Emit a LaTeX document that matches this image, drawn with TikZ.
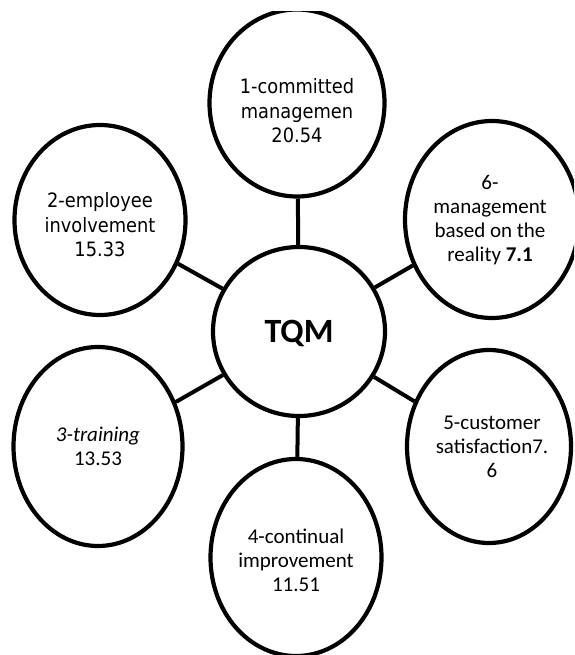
\documentclass[tikz,border=0pt]{standalone}
\usepackage{fontspec}
\setmainfont{Carlito}
\newfontfamily\widesans[FakeStretch=0.9]{DejaVu Sans}
\usetikzlibrary{shapes.geometric}

\tikzset{
  bubble/.style={ellipse, draw=black, line width=4.2pt, fill=white, inner sep=0pt},
  link/.style={line width=4pt, draw=black},
  cal/.style={align=center, inner sep=0pt, font=\fontsize{21}{24}\selectfont},
  dv/.style={align=center, inner sep=0pt, font=\widesans\fontsize{19.8}{24.5}\selectfont},
}

\begin{document}
\begin{tikzpicture}[x=1pt, y=-1pt]
  \useasboundingbox[fill=white] (0,0) rectangle (574,655);
  \begin{scope}
    \clip (0,12) rectangle (574,655);

    % outer bubbles
    \node[bubble, minimum width=175pt, minimum height=187pt] (c1) at (297,103) {};
    \node[bubble, minimum width=171pt, minimum height=190pt] (c2) at (100,220) {};
    \node[bubble, minimum width=169pt, minimum height=199pt] (c3) at (98,446.5) {};
    \node[bubble, minimum width=171pt, minimum height=197pt] (c4) at (296,557.5) {};
    \node[bubble, minimum width=164pt, minimum height=193pt] (c5) at (489,446.5) {};
    \node[bubble, minimum width=174pt, minimum height=197pt] (c6) at (492,219.5) {};

    % central bubble
    \node[bubble, minimum width=172pt, minimum height=169pt] (tqm) at (299,331.5) {};

    % spokes
    \draw[link] (tqm) -- (c1);
    \draw[link] (tqm) -- (c2);
    \draw[link] (tqm) -- (c3);
    \draw[link] (tqm) -- (c4);
    \draw[link] (tqm) -- (c5);
    \draw[link] (tqm) -- (c6);

    % labels
    \node[dv] (t1) at (297,111) {1-committed\\managemen\\20.54};
    \node[dv] (t2) at (100,225) {2-employee\\involvement\\15.33};
    \node[cal] (t3) at (98,446) {\textit{3-training}\\13.53};
    \node[cal] (t4) at (296,560) {4-continual\\improvement\\11.51};
    \node[cal] (t5) at (492,447) {5-customer\\satisfaction7.\\6};
    \node[cal] (t6) at (490,220) {6-\\management\\based on the\\reality \textbf{7.1}};
    \node[inner sep=0pt, font=\bfseries\fontsize{34}{38}\selectfont] (tt) at (299,333) {TQM};
  \end{scope}
\end{tikzpicture}
\end{document}
